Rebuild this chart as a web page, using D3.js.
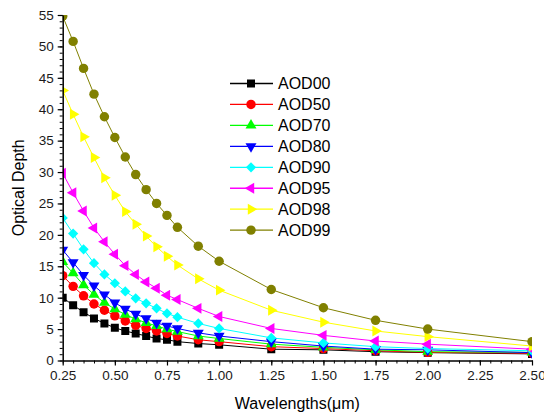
<!DOCTYPE html>
<html>
<head>
<meta charset="utf-8">
<script src="https://cdn.jsdelivr.net/npm/d3@7"></script>
<style>
  body { margin: 0; background: #fff; }
  text { font-family: "Liberation Sans", Arial, sans-serif; }
</style>
</head>
<body>
<script>
// wavelengths (um)
var wavelengths = [0.25, 0.30, 0.35, 0.40, 0.45, 0.50, 0.55, 0.60, 0.65, 0.70, 0.75, 0.80, 0.90, 1.00, 1.25, 1.50, 1.75, 2.00, 2.50];

// optical depth for each series
var aod00 = [10.0, 8.8, 7.7, 6.7, 5.9, 5.2, 4.7, 4.3, 3.9, 3.5, 3.3, 3.0, 2.7, 2.5, 1.8, 1.7, 1.4, 1.25, 1.05];
var aod50 = [13.5, 11.8, 10.3, 9.0, 8.0, 7.1, 6.3, 5.6, 5.1, 4.7, 4.3, 3.9, 3.3, 3.0, 2.2, 1.9, 1.55, 1.3, 1.15];
var aod70 = [15.7, 13.9, 12.0, 10.5, 9.2, 8.2, 7.3, 6.6, 6.0, 5.5, 5.0, 4.6, 3.9, 3.5, 2.6, 2.1, 1.7, 1.4, 1.3];
var aod80 = [17.6, 15.6, 13.6, 11.9, 10.5, 9.2, 8.2, 7.4, 6.7, 6.0, 5.5, 5.1, 4.4, 3.9, 3.0, 2.3, 1.8, 1.7, 1.25];
var aod90 = [22.7, 20.2, 17.7, 15.5, 13.7, 12.3, 11.0, 9.9, 9.1, 8.3, 7.5, 6.9, 5.9, 5.1, 3.6, 2.8, 2.2, 1.9, 1.55];
var aod95 = [29.8, 26.7, 23.8, 21.1, 18.9, 16.9, 15.1, 13.7, 12.5, 11.5, 10.4, 9.7, 8.3, 7.0, 5.1, 4.0, 3.1, 2.6, 1.8];
var aod98 = [43.0, 39.2, 35.6, 32.3, 29.1, 26.3, 23.7, 21.7, 19.8, 18.1, 16.6, 15.2, 13.0, 11.2, 8.0, 6.1, 4.7, 3.8, 2.3];
var aod99 = [54.8, 50.8, 46.5, 42.4, 38.8, 35.5, 32.4, 29.6, 27.2, 25.0, 23.1, 21.2, 18.2, 15.8, 11.3, 8.4, 6.4, 5.0, 3.0];

var seriesNames = ["AOD00", "AOD50", "AOD70", "AOD80", "AOD90", "AOD95", "AOD98", "AOD99"];
var seriesValues = [aod00, aod50, aod70, aod80, aod90, aod95, aod98, aod99];

var yTicks = [0, 5, 10, 15, 20, 25, 30, 35, 40, 45, 50, 55];
var xTicks = [0.25, 0.50, 0.75, 1.00, 1.25, 1.50, 1.75, 2.00, 2.25, 2.50];

var width = 544, height = 419;
var plot = {left: 62.7, right: 532, top: 15, bottom: 360.5};

// colour + marker for each series (same order as seriesNames)
var styles = [
    {color: "#000000", shape: "square"},
    {color: "#ff0000", shape: "circle"},
    {color: "#00ff00", shape: "up"},
    {color: "#0000ff", shape: "down"},
    {color: "#00ffff", shape: "diamond"},
    {color: "#ff00ff", shape: "left"},
    {color: "#ffff00", shape: "right"},
    {color: "#808000", shape: "circle"}
];

function markerPath(shape) {
    if (shape === "square") return d3.symbol().type(d3.symbolSquare).size(64)();
    if (shape === "circle") return d3.symbol().type(d3.symbolCircle).size(70)();
    if (shape === "diamond") return d3.symbol().type(d3.symbolSquare).size(52)();
    return d3.symbol().type(d3.symbolTriangle).size(52)();
}

function markerRotation(shape) {
    // rotate the base triangle / square to get the other markers
    return {up: 0, down: 180, left: -90, right: 90, diamond: 45}[shape] || 0;
}

var data = seriesNames.map(function (name, i) {
    return {
        name: name,
        style: styles[i],
        points: wavelengths.map(function (w, j) { return {x: w, y: seriesValues[i][j]}; })
    };
});

var svg = d3.select("body").append("svg")
    .attr("width", width)
    .attr("height", height);

// markers are cut at the frame like in the original
svg.append("clipPath")
    .attr("id", "plot-clip")
    .append("rect")
    .attr("x", plot.left)
    .attr("y", plot.top)
    .attr("width", plot.right - plot.left)
    .attr("height", plot.bottom - plot.top);

var xScale = d3.scaleLinear()
    .domain([0.25, 2.5])
    .range([plot.left, plot.right]);

var yScale = d3.scaleLinear()
    .domain([0, 55])
    .range([plot.bottom, plot.top]);

var line = d3.line()
    .x(function (d) { return xScale(d.x); })
    .y(function (d) { return yScale(d.y); });

var plotArea = svg.append("g").attr("clip-path", "url(#plot-clip)");

// lines first, then the markers on top
plotArea.append("g").selectAll("path")
    .data(data)
    .enter().append("path")
    .attr("d", function (d) { return line(d.points); })
    .attr("fill", "none")
    .attr("stroke", function (d) { return d.style.color; })
    .attr("stroke-width", 1);

data.forEach(function (s) {
    plotArea.append("g").selectAll("path")
        .data(s.points)
        .enter().append("path")
        .attr("d", markerPath(s.style.shape))
        .attr("transform", function (d) {
            return "translate(" + xScale(d.x) + "," + yScale(d.y) + ")rotate(" + markerRotation(s.style.shape) + ")";
        })
        .attr("fill", s.style.color);
});

// minor ticks
svg.append("g")
    .attr("transform", "translate(" + plot.left + ",0)")
    .call(d3.axisLeft(yScale).tickValues(d3.range(0, 56, 1)).tickSize(3).tickSizeOuter(0).tickFormat(""))
    .call(function (g) { g.select(".domain").remove(); });

svg.append("g")
    .attr("transform", "translate(0," + plot.bottom + ")")
    .call(d3.axisBottom(xScale).tickValues(d3.range(0.25, 2.5001, 0.05)).tickSize(3).tickSizeOuter(0).tickFormat(""))
    .call(function (g) { g.select(".domain").remove(); });

// major ticks + labels
var yAxis = svg.append("g")
    .attr("transform", "translate(" + plot.left + ",0)")
    .call(d3.axisLeft(yScale).tickValues(yTicks).tickSize(5).tickSizeOuter(0).tickPadding(4).tickFormat(d3.format("d")));

var xAxis = svg.append("g")
    .attr("transform", "translate(0," + plot.bottom + ")")
    .call(d3.axisBottom(xScale).tickValues(xTicks).tickSize(5).tickSizeOuter(0).tickPadding(5).tickFormat(d3.format(".2f")));

[yAxis, xAxis].forEach(function (g) {
    g.selectAll("line").attr("stroke", "#000").attr("stroke-width", 1.2);
    g.select(".domain").attr("stroke", "#000").attr("stroke-width", 1.5);
    g.selectAll("text")
        .style("font-family", "'Liberation Sans', Arial, sans-serif")
        .style("font-size", "13.5px")
        .attr("fill", "#1a1a1a");
});
svg.selectAll(".tick line").attr("stroke", "#000");

// axis titles
svg.append("text")
    .attr("text-anchor", "middle")
    .attr("transform", "translate(" + ((plot.left + plot.right) / 2) + ",409)")
    .style("font-size", "16px")
    .text("Wavelengths(\u03bcm)");

svg.append("text")
    .attr("text-anchor", "middle")
    .attr("transform", "translate(24," + ((plot.top + plot.bottom) / 2) + ")rotate(-90)")
    .style("font-size", "16px")
    .text("Optical Depth");

// legend
var legend = svg.append("g").attr("class", "legend");
legend.selectAll("g")
    .data(data)
    .enter().append("g")
    .each(function (d, i) {
        var g = d3.select(this);
        var ly = 83.5 + i * 20.95;
        g.append("line")
            .attr("x1", 230).attr("x2", 273)
            .attr("y1", ly).attr("y2", ly)
            .attr("stroke", d.style.color)
            .attr("stroke-width", 1.3);
        g.append("path")
            .attr("d", markerPath(d.style.shape))
            .attr("transform", "translate(251," + ly + ")rotate(" + markerRotation(d.style.shape) + ")")
            .attr("fill", d.style.color);
        g.append("text")
            .attr("x", 278)
            .attr("y", ly + 5.8)
            .style("font-size", "16px")
            .text(d.name);
    });
</script>
</body>
</html>
